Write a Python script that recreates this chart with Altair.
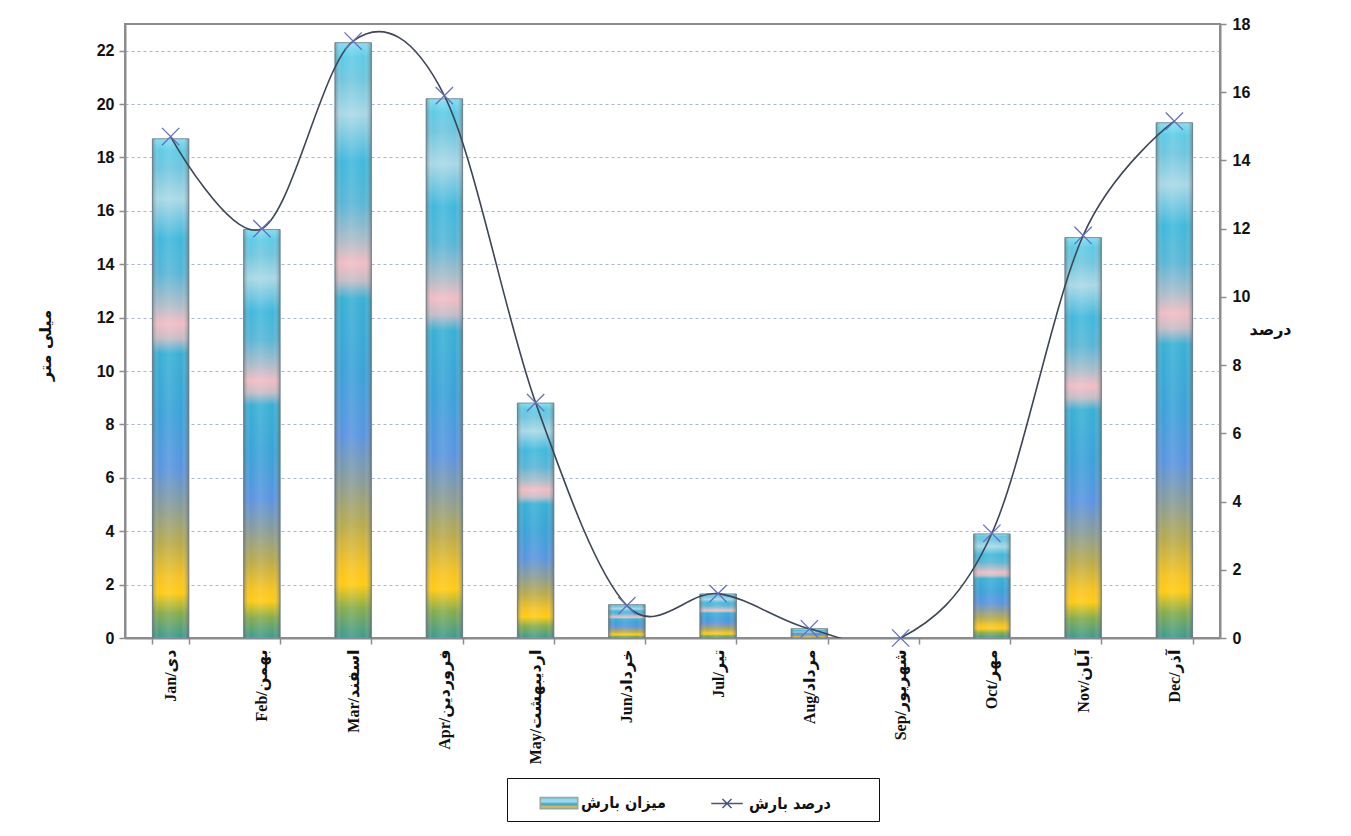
import altair as alt
import pandas as pd

# ---------------- data ----------------
months = ["Jan/دی", "Feb/بهمن", "Mar/اسفند", "Apr/فروردین", "May/اردیبهشت", "Jun/خرداد",
          "Jul/تیر", "Aug/مرداد", "Sep/شهریور", "Oct/مهر", "Nov/آبان", "Dec/آذر"]
rain_mm = [18.7, 15.3, 22.3, 20.2, 8.8, 1.25, 1.65, 0.35, 0.0, 3.9, 15.0, 19.3]
rain_pct = [14.7, 12.0, 17.5, 15.9, 6.9, 0.95, 1.3, 0.27, 0.0, 3.07, 11.8, 15.15]
left_ticks = [0, 2, 4, 6, 8, 10, 12, 14, 16, 18, 20, 22]
right_ticks = [0, 2, 4, 6, 8, 10, 12, 14, 16, 18]
bar_name = "میزان بارش"
line_name = "درصد بارش"
left_title = "میلی متر"
right_title = "درصد"

df = pd.DataFrame({"month": months, "mm": rain_mm, "pct": rain_pct,
                   "series": [line_name] * len(months)})

# ---------------- styles ----------------
AXIS_GRAY = "#8c8c8c"
v_stops = [
    (0.00, "#86def2"), (0.025, "#5ccbe6"), (0.06, "#6fc6de"), (0.12, "#a9d8e6"),
    (0.20, "#3fb8dc"), (0.27, "#58b6d6"), (0.33, "#a9bcc8"), (0.37, "#f2bcc4"),
    (0.40, "#c5bcc6"), (0.43, "#37b0d4"), (0.55, "#3aa2d8"), (0.66, "#5a94e0"),
    (0.74, "#8a9c96"), (0.81, "#b8aa4c"), (0.88, "#f6c320"), (0.91, "#ffcb12"),
    (0.95, "#86ac4c"), (1.00, "#3a9a92"),
]
grad_v = {"gradient": "linear", "x1": 0, "x2": 0, "y1": 0, "y2": 1,
          "stops": [{"offset": o, "color": c} for o, c in v_stops]}
grad_h = {"gradient": "linear", "x1": 0, "x2": 1, "y1": 0, "y2": 0,
          "stops": [{"offset": 0.0, "color": "rgba(70,80,90,0.45)"},
                    {"offset": 0.18, "color": "rgba(255,255,255,0.0)"},
                    {"offset": 0.45, "color": "rgba(255,255,255,0.12)"},
                    {"offset": 0.80, "color": "rgba(255,255,255,0.0)"},
                    {"offset": 1.0, "color": "rgba(70,80,90,0.45)"}]}

legend_grad_expr = ("{gradient: 'linear', x1: 0, y1: 0, x2: 0, y2: 1, stops: ["
                    "{offset: 0, color: '#6fd4ea'}, {offset: 0.35, color: '#a9d8e6'},"
                    "{offset: 0.6, color: '#3aa2d8'}, {offset: 0.85, color: '#f6c320'},"
                    "{offset: 1, color: '#3a9a92'}]}")
is_bar = "datum.value === '" + bar_name + "'"
sym_fill_expr = is_bar + " ? " + legend_grad_expr + " : 'transparent'"
sym_stroke_expr = is_bar + " ? '#9aa6a0' : '#4a5280'"

cross_path = "M-1,-1L1,1M-1,1L1,-1"
bar_sym = "M-1.25,-0.38L1.25,-0.38L1.25,0.38L-1.25,0.38Z"
line_sym = "M-1.05,0L1.05,0M-0.3,-0.3L0.3,0.3M-0.3,0.3L0.3,-0.3"

LABEL_FONT = "Liberation Sans"
ARABIC_FONT = "DejaVu Sans Condensed, DejaVu Sans"

x = alt.X("month:N", sort=months,
          scale=alt.Scale(paddingInner=0.6, paddingOuter=0.3),
          axis=alt.Axis(title=None, labelAngle=-90, labelFont="Liberation Serif, DejaVu Sans",
                        labelFontWeight="bold", labelFontSize=16, labelColor="#111111",
                        tickBand="extent", tickSize=6, tickColor=AXIS_GRAY, tickWidth=1.5,
                        labelPadding=5, domainColor=AXIS_GRAY, domainWidth=2, grid=False))

y_mm = alt.Y("mm:Q", scale=alt.Scale(domain=[0, 23], nice=False, zero=True),
             axis=alt.Axis(orient="left", values=left_ticks, title=left_title,
                           labelFont=LABEL_FONT, labelFontWeight="bold",
                           labelFontSize=16, labelColor="#111111", labelPadding=5,
                           tickSize=6, tickColor=AXIS_GRAY, tickWidth=1.5,
                           domainColor=AXIS_GRAY, domainWidth=2,
                           grid=True, gridDash=[3, 3], gridColor="#a9b7cf", gridWidth=1,
                           titleFont="DejaVu Sans", titleFontWeight="bold", titleFontSize=16,
                           titleColor="#111111", titleAngle=-90, titleX=-80, titleY=321,
                           titleAlign="center", titleBaseline="middle"))

y_pct = alt.Y("pct:Q", scale=alt.Scale(domain=[0, 18], nice=False, zero=True),
              axis=alt.Axis(orient="right", values=right_ticks, title=right_title,
                            labelFont=LABEL_FONT, labelFontWeight="bold",
                            labelFontSize=16, labelColor="#111111", labelPadding=6,
                            tickSize=6, tickColor=AXIS_GRAY, tickWidth=1.5,
                            domainColor=AXIS_GRAY, domainWidth=2, grid=False,
                            titleFont="DejaVu Sans", titleFontWeight="bold", titleFontSize=16,
                            titleColor="#111111", titleAngle=0, titleX=50, titleY=305,
                            titleAlign="center", titleBaseline="middle"))

bars = alt.Chart(df).mark_bar(fill=grad_v, stroke="#7d8e96", strokeWidth=1).encode(x=x, y=y_mm)
shade = alt.Chart(df).mark_bar(fill=grad_h).encode(x=x, y=y_mm)

line = alt.Chart(df).mark_line(interpolate="cardinal", stroke="#3d4656",
                               strokeWidth=1.6, clip=True).encode(x=x, y=y_pct)
pts = alt.Chart(df).mark_point(shape=cross_path, size=300, stroke="#6470be",
                               strokeWidth=1.3, filled=False, opacity=1).encode(x=x, y=y_pct)

leg = alt.Legend(title="|", titleOrient="right", titleOpacity=0, titlePadding=34,
                 titleFontSize=16,
                 orient="none", legendX=382, legendY=754, direction="horizontal",
                 strokeColor="#111111", fillColor="white", padding=9,
                 labelFont=ARABIC_FONT, labelFontWeight="bold", labelFontSize=16,
                 labelColor="#111111", symbolSize=900, columnPadding=18, labelOffset=6,
                 symbolOffset=27, symbolStrokeWidth=1.5, symbolOpacity=1)

legend_layer = alt.Chart(df).mark_point(
    filled=True,
    fill=alt.ExprRef(expr=sym_fill_expr),
    stroke=alt.ExprRef(expr=sym_stroke_expr),
    strokeWidth=1.5,
).encode(
    x=x, y=y_pct,
    shape=alt.Shape("series:N", scale=alt.Scale(domain=[bar_name, line_name],
                                                 range=[bar_sym, line_sym]), legend=leg),
).transform_filter("false")

left = alt.layer(bars, shade)
right = alt.layer(line, pts, legend_layer)

chart = alt.layer(left, right).resolve_scale(y="independent").properties(
    width=1095, height=614,
    autosize=alt.AutoSizeParams(type="none"),
    padding={"left": 117, "top": 16, "right": 123, "bottom": 188},
    background="white",
).configure_view(stroke=AXIS_GRAY, strokeWidth=2)

chart.save("out.html", embed_options={"renderer": "svg", "actions": False})
